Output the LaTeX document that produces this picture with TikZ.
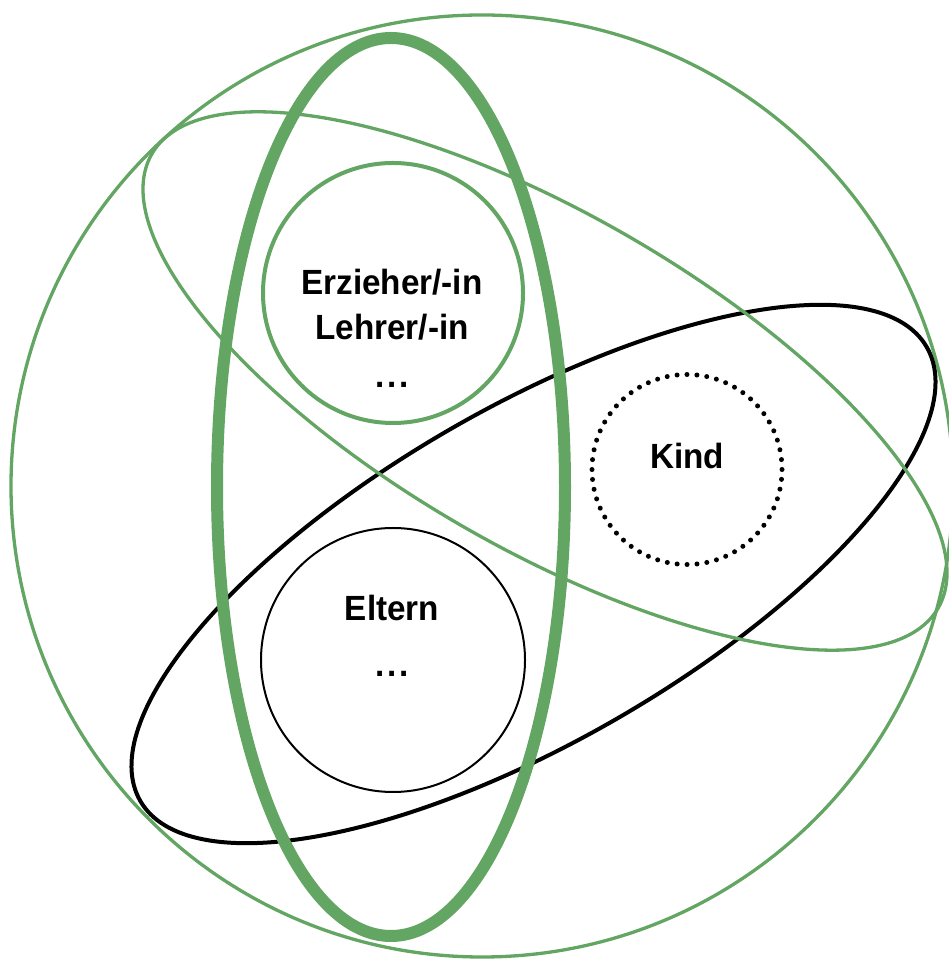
\documentclass[tikz,border=0pt]{standalone}
\usepackage{fontspec}
\setmainfont{Liberation Sans}[FakeStretch=0.95]
\usepackage{tikz}
\usetikzlibrary{positioning}
\definecolor{EnvGreen}{RGB}{99,165,98}
\definecolor{EnvBlack}{RGB}{0,0,0}
\newcommand{\envdots}{.\hspace{3pt}.\hspace{3pt}.}
\tikzset{
  env/ring/.style={
    draw=EnvGreen,
    line width=3.3pt
  },
  env/thickring/.style={
    draw=EnvGreen,
    line width=12pt
  },
  env/blackring/.style={
    draw=EnvBlack,
    line width=4pt
  },
  env/member/.style={
    draw=EnvBlack,
    line width=2pt
  },
  env/child/.style={
    draw=EnvBlack,
    line width=5pt,
    line cap=round,
    dash pattern=on 0pt off 9.95pt
  },
  env/label/.style={
    font=\fontsize{35}{46}\selectfont\bfseries,
    text=EnvBlack,
    anchor=base,
    inner sep=0pt
  }
}

\begin{document}
\begin{tikzpicture}[x=1pt,y=1pt]
  \useasboundingbox (0,0) rectangle (948,961);
  % outer circle and the two tilted systems
  \draw[env/ring] (482,475) circle [radius=471];
  \draw[env/blackring, rotate around={30:(533.5,387)}] (533.5,387) ellipse [x radius=454, y radius=167];
  \draw[env/ring, rotate around={-30:(545,580)}] (545,580) ellipse [x radius=454, y radius=167];
  \draw[env/thickring] (391,474) ellipse [x radius=174, y radius=449];
  % the three inner circles
  \draw[env/ring, line width=4pt] (393,668) circle [radius=130];
  \draw[env/member] (393,301) circle [radius=132];
  \draw[env/child] (687,491.5) circle [radius=95];
  % labels
  \node[env/label] (erz) at (392,666) {Erzieher/-in};
  \node[env/label] (leh) at (392,621) {Lehrer/-in};
  \node[env/label] (erzdots) at (392,573) {\envdots};
  \node[env/label] (kind) at (687,492) {Kind};
  \node[env/label] (elt) at (392,340) {Eltern};
  \node[env/label] (eltdots) at (392,284) {\envdots};
\end{tikzpicture}
\end{document}
